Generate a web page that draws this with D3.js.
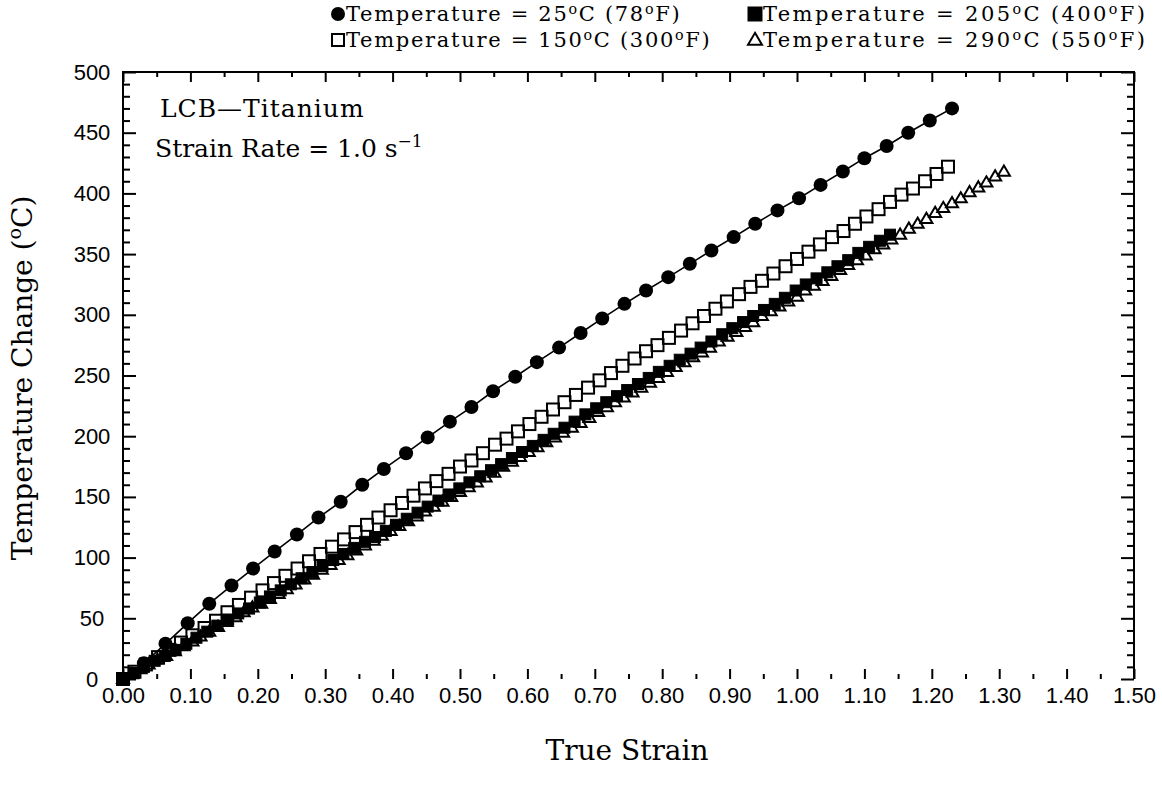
<!DOCTYPE html>
<meta charset="utf-8">
<style>
    body { margin: 0; background: #fff; }
    .tick line { stroke: #000; stroke-width: 2px; }
    .tick text { font-family: "Liberation Sans", sans-serif; font-size: 22px; fill: #000; }
    .serif { font-family: "DejaVu Serif", serif; fill: #000; }
</style>
<body>
<script src="https://cdn.jsdelivr.net/npm/d3@7"></script>
<script>

    // 25 C (78 F) - filled circles joined by a line
    var strain25 = [0, 0.031, 0.063, 0.096, 0.128, 0.161, 0.193, 0.225, 0.258, 0.290, 0.323, 0.355, 0.387, 0.420, 0.452, 0.485, 0.517, 0.549, 0.582, 0.614, 0.647, 0.679, 0.711, 0.744, 0.776, 0.809, 0.841, 0.873, 0.906, 0.938, 0.971, 1.003, 1.035, 1.068, 1.100, 1.133, 1.165, 1.197, 1.230];
    var temp25 = [0, 13, 29, 46, 62, 77, 91, 105, 119, 133, 146, 160, 173, 186, 199, 212, 224, 237, 249, 261, 273, 285, 297, 309, 320, 331, 342, 353, 364, 375, 386, 396, 407, 418, 429, 439, 450, 460, 470];

    // 150 C (300 F) - open squares
    var strain150 = [0, 0.017, 0.034, 0.052, 0.069, 0.086, 0.103, 0.121, 0.138, 0.155, 0.172, 0.190, 0.207, 0.224, 0.241, 0.259, 0.276, 0.293, 0.310, 0.328, 0.345, 0.362, 0.379, 0.397, 0.414, 0.431, 0.448, 0.465, 0.483, 0.500, 0.517, 0.534, 0.552, 0.569, 0.586, 0.603, 0.621, 0.638, 0.655, 0.672, 0.690, 0.707, 0.724, 0.741, 0.759, 0.776, 0.793, 0.810, 0.828, 0.845, 0.862, 0.879, 0.896, 0.914, 0.931, 0.948, 0.965, 0.983, 1.000, 1.017, 1.034, 1.052, 1.069, 1.086, 1.103, 1.121, 1.138, 1.155, 1.172, 1.190, 1.207, 1.224];
    var temp150 = [0, 6, 12, 18, 24, 30, 36, 42, 48, 55, 61, 67, 73, 79, 85, 91, 97, 103, 109, 115, 121, 127, 133, 139, 145, 151, 157, 163, 169, 175, 180, 186, 193, 198, 204, 210, 216, 222, 228, 234, 240, 246, 252, 258, 264, 270, 275, 281, 287, 293, 299, 305, 311, 317, 323, 328, 334, 340, 346, 352, 358, 364, 369, 375, 381, 387, 393, 399, 404, 410, 416, 422];

    // 205 C (400 F) - filled squares
    var strain205 = [0, 0.016, 0.031, 0.047, 0.062, 0.078, 0.094, 0.109, 0.125, 0.140, 0.156, 0.171, 0.187, 0.203, 0.218, 0.234, 0.249, 0.265, 0.281, 0.296, 0.312, 0.327, 0.343, 0.359, 0.374, 0.390, 0.405, 0.421, 0.437, 0.452, 0.468, 0.483, 0.499, 0.514, 0.530, 0.546, 0.561, 0.577, 0.592, 0.608, 0.624, 0.639, 0.655, 0.670, 0.686, 0.702, 0.717, 0.733, 0.748, 0.764, 0.780, 0.795, 0.811, 0.826, 0.842, 0.857, 0.873, 0.889, 0.904, 0.920, 0.935, 0.951, 0.967, 0.982, 0.998, 1.013, 1.029, 1.045, 1.060, 1.076, 1.091, 1.107, 1.123, 1.138];
    var temp205 = [0, 5, 10, 15, 19, 24, 29, 34, 39, 44, 49, 54, 58, 63, 68, 73, 78, 83, 88, 93, 98, 103, 108, 113, 117, 122, 127, 132, 137, 142, 147, 152, 157, 162, 167, 172, 177, 182, 187, 192, 197, 202, 207, 212, 218, 223, 228, 233, 238, 243, 248, 253, 258, 263, 268, 273, 278, 284, 289, 294, 299, 304, 309, 314, 320, 325, 330, 335, 340, 345, 351, 356, 361, 366];

    // 290 C (550 F) - open triangles
    var strain290 = [0, 0.013, 0.026, 0.038, 0.051, 0.064, 0.077, 0.090, 0.103, 0.115, 0.128, 0.141, 0.154, 0.167, 0.179, 0.192, 0.205, 0.218, 0.231, 0.243, 0.256, 0.269, 0.282, 0.295, 0.308, 0.320, 0.333, 0.346, 0.359, 0.372, 0.384, 0.397, 0.410, 0.423, 0.436, 0.448, 0.461, 0.474, 0.487, 0.500, 0.513, 0.525, 0.538, 0.551, 0.564, 0.577, 0.589, 0.602, 0.615, 0.628, 0.641, 0.653, 0.666, 0.679, 0.692, 0.705, 0.718, 0.730, 0.743, 0.756, 0.769, 0.782, 0.794, 0.807, 0.820, 0.833, 0.846, 0.859, 0.871, 0.884, 0.897, 0.910, 0.923, 0.935, 0.948, 0.961, 0.974, 0.987, 1.000, 1.012, 1.025, 1.038, 1.051, 1.064, 1.076, 1.089, 1.102, 1.115, 1.128, 1.140, 1.153, 1.166, 1.179, 1.192, 1.205, 1.217, 1.230, 1.243, 1.256, 1.269, 1.281, 1.294, 1.307];
    var temp290 = [0, 4, 8, 12, 16, 19, 23, 27, 31, 35, 39, 43, 47, 51, 55, 59, 62, 66, 70, 74, 78, 82, 86, 90, 94, 98, 102, 106, 110, 114, 118, 122, 126, 130, 134, 138, 142, 146, 150, 154, 158, 162, 166, 170, 175, 179, 183, 187, 191, 195, 199, 203, 207, 211, 215, 220, 224, 228, 232, 236, 240, 244, 248, 253, 257, 261, 265, 269, 273, 278, 282, 286, 290, 294, 299, 303, 307, 311, 315, 320, 324, 328, 332, 337, 341, 345, 349, 354, 358, 362, 366, 371, 375, 379, 384, 388, 392, 396, 401, 405, 409, 414, 418];

    var xTicks = d3.range(0, 1.501, 0.1);
    var yTicks = d3.range(0, 501, 50);

    var svg = d3.select("body").append("svg")
        .attr("width", 1162)
        .attr("height", 806);

    var x = d3.scaleLinear().domain([0, 1.5]).range([123, 1134]);
    var y = d3.scaleLinear().domain([0, 500]).range([679, 72]);

    function pairs(xs, ys) {
        return xs.map(function (v, i) { return [v, ys[i]]; });
    }

    function noDomain(g) { g.select(".domain").remove(); }

    // axes: ticks point inward on all four sides
    svg.append("g").attr("transform", "translate(0," + y(0) + ")")
        .call(d3.axisBottom(x).tickValues(xTicks).tickFormat(d3.format(".2f")).tickSize(-10).tickPadding(8))
        .call(noDomain);
    svg.append("g").attr("transform", "translate(0," + y(0) + ")")
        .call(d3.axisBottom(x).tickValues(d3.range(0.05, 1.5, 0.1)).tickFormat("").tickSize(-5))
        .call(noDomain);
    svg.append("g").attr("transform", "translate(0," + y(500) + ")")
        .call(d3.axisTop(x).tickValues(xTicks).tickFormat("").tickSize(-10))
        .call(noDomain);
    svg.append("g").attr("transform", "translate(0," + y(500) + ")")
        .call(d3.axisTop(x).tickValues(d3.range(0.05, 1.5, 0.1)).tickFormat("").tickSize(-5))
        .call(noDomain);

    var yMinor = d3.range(10, 500, 10).filter(function (v) { return v % 50 != 0; });
    svg.append("g").attr("transform", "translate(" + x(0) + ",0)")
        .call(d3.axisLeft(y).tickValues(yTicks).tickSize(-13).tickPadding(14))
        .call(noDomain)
        .call(function (g) {
            // labels are centred in the original
            g.selectAll(".tick text").attr("text-anchor", "middle").attr("x", 92 - x(0));
        });
    svg.append("g").attr("transform", "translate(" + x(0) + ",0)")
        .call(d3.axisLeft(y).tickValues(yMinor).tickFormat("").tickSize(-7))
        .call(noDomain);
    svg.append("g").attr("transform", "translate(" + x(1.5) + ",0)")
        .call(d3.axisRight(y).tickValues(yTicks).tickFormat("").tickSize(-13))
        .call(noDomain);
    svg.append("g").attr("transform", "translate(" + x(1.5) + ",0)")
        .call(d3.axisRight(y).tickValues(yMinor).tickFormat("").tickSize(-7))
        .call(noDomain);

    // frame (no bottom line in the original)
    svg.append("path")
        .attr("d", "M" + x(0) + "," + y(0) + "V" + y(500) + "H" + x(1.5) + "V" + y(0))
        .attr("fill", "none")
        .attr("stroke", "#000")
        .attr("stroke-width", 2);

    // markers
    function square(g, s, filled) {
        return g.append("rect")
            .attr("x", -s / 2).attr("y", -s / 2)
            .attr("width", s).attr("height", s)
            .attr("fill", filled ? "#000" : "none")
            .attr("stroke", "#000")
            .attr("stroke-width", filled ? 1 : 2);
    }
    function triangle(g, s) {
        var h = s * 0.85;
        return g.append("path")
            .attr("d", "M0," + (-h * 0.6) + "L" + (s / 2) + "," + (h * 0.4) + "L" + (-s / 2) + "," + (h * 0.4) + "Z")
            .attr("fill", "none")
            .attr("stroke", "#000")
            .attr("stroke-width", 2);
    }

    var plot = svg.append("g");

    plot.selectAll(".tri").data(pairs(strain290, temp290)).enter().append("g")
        .attr("class", "tri")
        .attr("transform", function (d) { return "translate(" + x(d[0]) + "," + y(d[1]) + ")"; })
        .each(function () { triangle(d3.select(this), 12); });

    plot.selectAll(".fsq").data(pairs(strain205, temp205)).enter().append("g")
        .attr("class", "fsq")
        .attr("transform", function (d) { return "translate(" + x(d[0]) + "," + y(d[1]) + ")"; })
        .each(function () { square(d3.select(this), 11, true); });

    plot.selectAll(".osq").data(pairs(strain150, temp150)).enter().append("g")
        .attr("class", "osq")
        .attr("transform", function (d) { return "translate(" + x(d[0]) + "," + y(d[1]) + ")"; })
        .each(function () { square(d3.select(this), 12, false); });

    var line = d3.line().x(function (d) { return x(d[0]); }).y(function (d) { return y(d[1]); });
    plot.append("path")
        .datum(pairs(strain25, temp25))
        .attr("d", line)
        .attr("fill", "none")
        .attr("stroke", "#000")
        .attr("stroke-width", 1.6);
    plot.selectAll(".dot").data(pairs(strain25, temp25)).enter().append("circle")
        .attr("class", "dot")
        .attr("cx", function (d) { return x(d[0]); })
        .attr("cy", function (d) { return y(d[1]); })
        .attr("r", 7);

    // text with superscripts: parts = [[text, isSup], ...]
    function rich(g, px, py, size, parts, anchor, raise) {
        var k = raise || 0.4;
        var t = g.append("text").attr("class", "serif")
            .attr("x", px).attr("y", py)
            .attr("font-size", size)
            .attr("text-anchor", anchor || "start");
        var up = false;
        parts.forEach(function (p) {
            var ts = t.append("tspan").text(p[0]);
            if (p[1] && !up) { ts.attr("dy", -size * k).attr("font-size", size * 0.68); up = true; }
            else if (!p[1] && up) { ts.attr("dy", size * k); up = false; }
        });
        return t;
    }

    // legend
    var legend = svg.append("g");
    var legendLabels = [
        [["Temperature = 25", 0], ["o", 1], ["C (78", 0], ["o", 1], ["F)", 0]],
        [["Temperature = 150", 0], ["o", 1], ["C (300", 0], ["o", 1], ["F)", 0]],
        [["Temperature = 205", 0], ["o", 1], ["C (400", 0], ["o", 1], ["F)", 0]],
        [["Temperature = 290", 0], ["o", 1], ["C (550", 0], ["o", 1], ["F)", 0]]
    ];
    var legendPos = [[338, 14], [338, 40], [755, 14], [755, 40]];
    legendPos.forEach(function (p, i) {
        var m = legend.append("g").attr("transform", "translate(" + p[0] + "," + p[1] + ")");
        if (i == 0) m.append("circle").attr("r", 7);
        if (i == 1) square(m, 12, false);
        if (i == 2) square(m, 14, true);
        if (i == 3) triangle(m, 14);
        rich(legend, p[0] + 8, p[1] + 7, 21, legendLabels[i], "start", 0.33)
            .attr("letter-spacing", i > 1 ? 2.4 : 1.7);
    });

    // annotation inside the plot
    rich(svg, 160, 117, 25, [["LCB\u2014Titanium", 0]]).attr("letter-spacing", 1);
    rich(svg, 155, 157, 25, [["Strain Rate = 1.0 s", 0], ["\u22121", 1]]);

    // axis titles
    rich(svg, 627, 760, 28, [["True Strain", 0]], "middle");
    rich(svg.append("g").attr("transform", "translate(32,378) rotate(-90)"), 0, 0, 28,
        [["Temperature Change (", 0], ["o", 1], ["C)", 0]], "middle");

</script>
</body>
